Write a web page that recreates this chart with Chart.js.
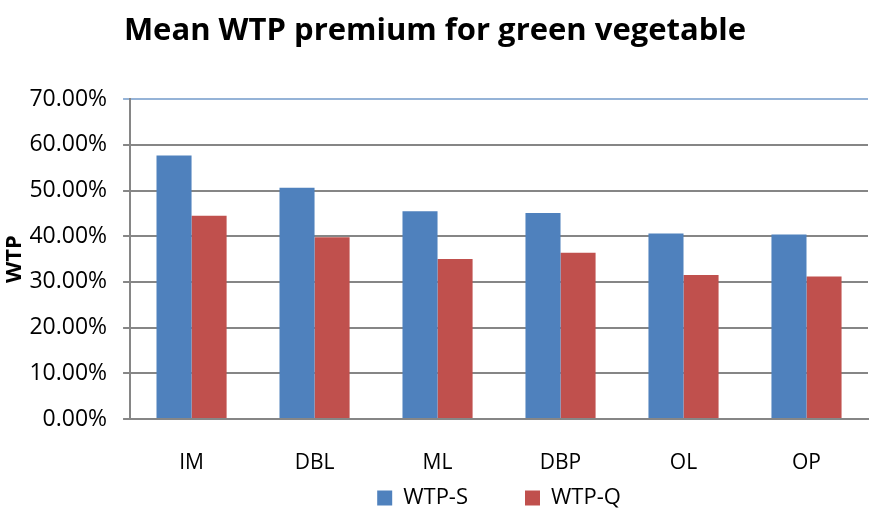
<!DOCTYPE html>
<html>
<head>
<meta charset="utf-8">
<script src="https://cdn.jsdelivr.net/npm/chart.js@4"></script>
<style>
  html, body { margin: 0; padding: 0; background: #fff; }
  #wrap { width: 869px; height: 514px; }
</style>
</head>
<body>
<div id="wrap"><canvas id="chart"></canvas></div>
<script>
const categories = ['IM', 'DBL', 'ML', 'DBP', 'OL', 'OP'];
const wtpS = [57.7, 50.6, 45.5, 45.1, 40.6, 40.4];
const wtpQ = [44.5, 39.8, 35.0, 36.4, 31.5, 31.2];

const font = '"Open Sans", "Liberation Sans", sans-serif';

new Chart(document.getElementById('chart'), {
    type: 'bar',
    data: {
        labels: categories,
        datasets: [
            { label: 'WTP-S', data: wtpS, backgroundColor: '#4f81bd' },
            { label: 'WTP-Q', data: wtpQ, backgroundColor: '#c0504d' }
        ]
    },
    options: {
        responsive: true,
        maintainAspectRatio: false,
        animation: false,
        datasets: {
            bar: { categoryPercentage: 0.57, barPercentage: 1.0 }
        },
        layout: { padding: { left: 2, right: 1, top: 0, bottom: -5 } },
        plugins: {
            title: {
                display: true,
                text: 'Mean WTP premium for green vegetable',
                color: '#000',
                font: { family: font, size: 31, weight: 'bold' },
                padding: { top: 13, bottom: 49 }
            },
            legend: {
                position: 'bottom',
                fullSize: false,
                labels: {
                    color: '#000',
                    font: { family: font, size: 22 },
                    boxWidth: 15,
                    boxHeight: 15,
                    padding: 57
                }
            },
            tooltip: { enabled: false }
        },
        scales: {
            x: {
                grid: { display: false, drawTicks: false },
                border: { color: '#868686', width: 2 },
                // mirror keeps the labels from being clipped to the (shrunk) axis box
                ticks: { color: '#000', font: { family: font, size: 21 }, mirror: true, padding: -57 },
                afterFit: scale => { scale.height = 11; }
            },
            y: {
                min: 0,
                max: 70,
                ticks: {
                    stepSize: 10,
                    color: '#000',
                    font: { family: font, size: 23 },
                    padding: 16,
                    callback: value => value.toFixed(2) + '%'
                },
                grid: {
                    color: ctx => ctx.tick && ctx.tick.value === 70 ? '#95b3d7' : '#868686',
                    lineWidth: 2,
                    tickLength: 7
                },
                border: { color: '#868686', width: 2 },
                title: {
                    display: true,
                    text: 'WTP',
                    color: '#000',
                    font: { family: font, size: 22, weight: 'bold' },
                    padding: { top: 0, bottom: -15 }
                }
            }
        }
    }
});
</script>
</body>
</html>
